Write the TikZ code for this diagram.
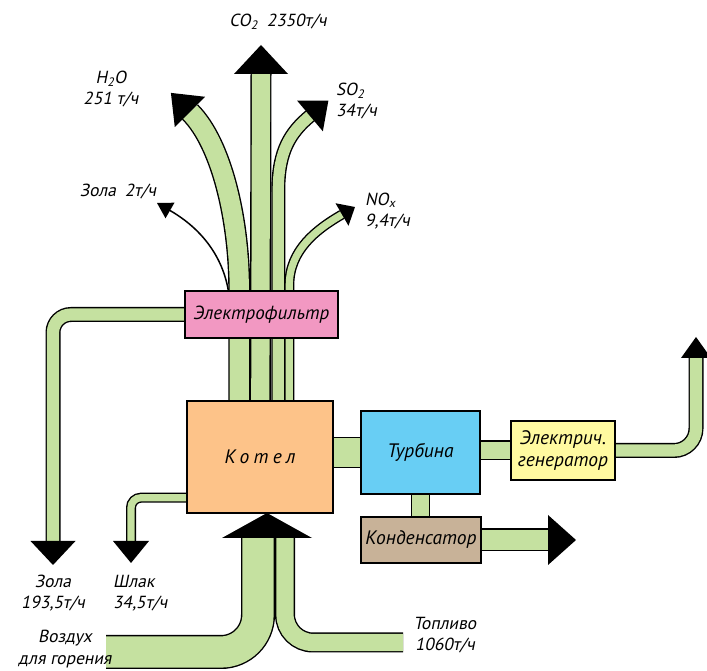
\documentclass[tikz,border=0pt]{standalone}
\usepackage{fontspec}
\setmainfont{PT Sans}
\newfontfamily\slantsans[FakeSlant=0.2]{PT Sans}
\usetikzlibrary{calc}
\definecolor{flowgreen}{RGB}{197,225,160}
\definecolor{filterpink}{RGB}{242,152,194}
\definecolor{boilerorange}{RGB}{253,195,137}
\definecolor{turbineblue}{RGB}{104,206,244}
\definecolor{genyellow}{RGB}{255,250,160}
\definecolor{condtan}{RGB}{200,178,152}
\tikzset{
  flow/.style={draw=flowgreen,line width=#1-2.8pt,preaction={draw=black,line width=#1}},
  unitbox/.style={draw,line width=1.4pt,inner sep=0pt,align=center,
    font=\fontsize{19.5}{22}\selectfont\itshape},
  flowlabel/.style={font=\fontsize{17.5}{21.5}\selectfont\slantsans,align=center,inner sep=0pt},
  pics/flowhead/.style 2 args={code={\fill (0,#2/2) -- (#1,0) -- (0,-#2/2) -- cycle;}}
}
\begin{document}
\begin{tikzpicture}[x=1pt,y=1pt]
  \useasboundingbox (0,0) rectangle (707,671);
  \clip (0,0) rectangle (707,671);

  % Агрегаты
  \path[unitbox] node[minimum width=153pt,minimum height=47pt] (filter) at (261.5,356.5) {}
    node[minimum width=146pt,minimum height=112pt] (kotel) at (260,214) {}
    node[minimum width=119pt,minimum height=83pt] (turbine) at (420.5,218.5) {}
    node[minimum width=104pt,minimum height=59pt] (generator) at (563,220.5) {}
    node[minimum width=120pt,minimum height=46pt] (condenser) at (421,131) {};

  % Концы потоков (основания стрелок)
  \coordinate (co2b) at (261,597);
  \coordinate (h2ob) at (190,559);
  \coordinate (so2b) at (310,555);
  \coordinate (noxb) at (342,456.5);
  \coordinate (ashtb) at (170,460.5);
  \coordinate (ashb) at (53,130);
  \coordinate (slagb) at (131,130);
  \coordinate (genb) at (696,313);
  \coordinate (condb) at (548,131);
  \coordinate (inb) at (267,133);
  \coordinate (airend) at (106,19);
  \coordinate (fuelend) at (403,28.5);

  % Начала потоков на котле и фильтре
  \coordinate (h2os) at ($(kotel.north west)+(53,0)$);
  \coordinate (co2s) at ($(kotel.north west)+(74,0)$);
  \coordinate (so2s) at ($(kotel.north west)+(92,0)$);
  \coordinate (noxs) at ($(kotel.north west)+(103,0)$);
  \coordinate (ashts) at ($(filter.north west)+(44,0)$);
  \coordinate (slags) at ($(kotel.south west)+(0,16)$);
  \coordinate (airtop) at ($(inb)+(-9,0)$);
  \coordinate (fueltop) at ($(inb)+(18,0)$);

  % Дымовые газы
  \draw[flow=22pt] (h2os) -- ++(0,110) .. controls +(90:70) and +(315:45) .. (h2ob);
  \draw[flow=21pt] (co2s) -- (co2b);
  \draw[flow=14pt] (so2s) -- ++(0,210) .. controls +(90:40) and +(220:25) .. (so2b);
  \draw[flow=10pt] (noxs) -- ++(0,115) .. controls +(90:35) and +(210:30) .. (noxb);
  \draw[line width=1.5pt] (ashts) .. controls +(100:40) and +(330:30) .. (ashtb);

  % Зола и шлак
  \draw[flow=15pt,rounded corners=18pt] (filter.west) -- (filter.west -| ashb) -- (ashb);
  \draw[flow=10pt,rounded corners=10pt] (slags) -- (slags -| slagb) -- (slagb);

  % Пар и энергия
  \draw[flow=31pt] (kotel.east |- turbine.west) -- (turbine.west);
  \draw[flow=20pt] (turbine.east |- generator.west) -- (generator.west);
  \draw[flow=15pt,rounded corners=22pt] (generator.east) -- (generator.east -| genb) -- (genb);
  \draw[flow=19pt] (turbine.south) -- (turbine.south |- condenser.north);
  \draw[flow=23pt] (condenser.east) -- (condb);

  % Воздух и топливо
  \draw[flow=34pt,rounded corners=37pt] (airtop) -- (airtop |- airend) -- (airend);
  \draw[flow=20pt,rounded corners=28pt] (fueltop) -- (fueltop |- fuelend) -- (fuelend);

  % Наконечники
  \pic[rotate=90] at (co2b) {flowhead={29}{54}};
  \pic[rotate=135] at (h2ob) {flowhead={27}{43}};
  \pic[rotate=40] at (so2b) {flowhead={24}{40}};
  \pic[rotate=30] at (noxb) {flowhead={15}{26}};
  \pic[rotate=150] at (ashtb) {flowhead={15}{18}};
  \pic[rotate=270] at (ashb) {flowhead={24}{45}};
  \pic[rotate=270] at (slagb) {flowhead={22}{36}};
  \pic[rotate=90] at (genb) {flowhead={21}{30}};
  \pic[rotate=0] at (condb) {flowhead={28}{50}};
  \pic[rotate=90] at (inb) {flowhead={25}{90}};

  % Агрегаты поверх труб
  \node[unitbox,fill=filterpink,minimum width=153pt,minimum height=47pt,
        font=\fontsize{19}{22}\selectfont\itshape] at (filter) {Электрофильтр};
  \node[unitbox,fill=boilerorange,minimum width=146pt,minimum height=112pt]
    at (kotel) {\addfontfeature{LetterSpace=22}Котел};
  \node[unitbox,fill=turbineblue,minimum width=119pt,minimum height=83pt] at (turbine) {Турбина};
  \node[unitbox,fill=genyellow,minimum width=104pt,minimum height=59pt] at (generator) {Электрич.\\генератор};
  \node[unitbox,fill=condtan,minimum width=120pt,minimum height=46pt] at (condenser) {Конденсатор};

  % Подписи
  \node[flowlabel] (co2lab) at (278,649) {CO\textsubscript{2}\enspace 2350т/ч};
  \node[flowlabel] (h2olab) at (111,582) {H\textsubscript{2}O\\251 т/ч};
  \node[flowlabel,anchor=west,align=left] (so2lab) at (336,570) {SO\textsubscript{2}\\34т/ч};
  \node[flowlabel,anchor=west,align=left] (noxlab) at (365,460) {NO\textsubscript{x}\\9,4т/ч};
  \node[flowlabel] (ashtlab) at (118,479) {Зола\enspace 2т/ч};
  \node[flowlabel] (ashlab) at (53,78) {Зола\\193,5т/ч};
  \node[flowlabel,anchor=west,align=left] (slaglab) at (113,78) {Шлак\\34,5т/ч};
  \node[flowlabel] (airlab) at (65,22) {Воздух\\для горения};
  \node[flowlabel] (fuellab) at (445,36) {Топливо\\1060т/ч};
\end{tikzpicture}
\end{document}
